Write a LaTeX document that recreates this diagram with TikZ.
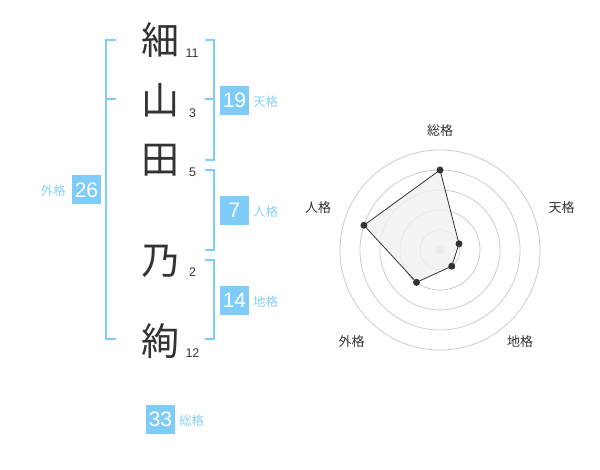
\documentclass[tikz,border=0pt]{standalone}
\usepackage{fontspec}
\setmainfont{Liberation Sans}
\newfontfamily\cjk{Noto Sans CJK JP}
\definecolor{boxblue}{HTML}{80CCF8}
\definecolor{lblblue}{HTML}{8ACFF5}
\definecolor{inkgray}{HTML}{333333}
\definecolor{ringgray}{HTML}{CCCCCC}
\definecolor{polyfill}{HTML}{F0F0F0}
\tikzset{
  kanji/.style={font=\cjk\fontsize{38}{38}\selectfont, text=inkgray, inner sep=0pt},
  strokes/.style={font=\fontsize{12.5}{12.5}\selectfont, text=inkgray, inner sep=0pt},
  valbox/.style={fill=boxblue, text=white, minimum width=29pt, minimum height=29pt, inner sep=0pt, font=\fontsize{21}{21}\selectfont},
  kaku/.style={font=\cjk\fontsize{12.5}{12.5}\selectfont, text=lblblue, inner sep=0pt},
  brk/.style={draw=boxblue, line width=2pt},
  ring/.style={draw=ringgray, line width=0.8pt},
  axlbl/.style={font=\cjk\fontsize{13}{13}\selectfont, text=inkgray, inner sep=0pt},
  dot/.style={circle, fill=inkgray, minimum size=7pt, inner sep=0pt}
}
\begin{document}
\begin{tikzpicture}[x=1pt,y=-1pt]
\useasboundingbox (0,0) rectangle (600,470);
% kanji
\node[kanji] (k1) at (160,40) {細};
\node[kanji] (k2) at (160,100) {山};
\node[kanji] (k3) at (160,160) {田};
\node[kanji] (k4) at (160,261) {乃};
\node[kanji] (k5) at (160,341) {絢};
% stroke numbers
\node[strokes] (s1) at (192,53) {11};
\node[strokes] (s2) at (192.5,113) {3};
\node[strokes] (s3) at (192.5,172.5) {5};
\node[strokes] (s4) at (192.5,272.5) {2};
\node[strokes] (s5) at (192.5,353) {12};
% left bracket (gaikaku)
\draw[brk] (116,40) -- (105.7,40) -- (105.7,339.5) -- (116,339.5);
\draw[brk] (105.7,99.5) -- (116,99.5);
% right brackets
\draw[brk] (205,40) -- (214.3,40) -- (214.3,160) -- (205,160);
\draw[brk] (205,99.5) -- (214.3,99.5);
\draw[brk] (205,170) -- (214.3,170) -- (214.3,250) -- (205,250);
\draw[brk] (205,260) -- (214.3,260) -- (214.3,339.5) -- (205,339.5);
% value boxes
\node[valbox] (vgai) at (86.5,190) {26};
\node[kaku, anchor=east] (lgai) at (66,191) {外格};
\node[valbox] (vten) at (234.5,100.5) {19};
\node[kaku, anchor=west] (lten) at (253,102) {天格};
\node[valbox] (vjin) at (234.5,210.5) {7};
\node[kaku, anchor=west] (ljin) at (253,212) {人格};
\node[valbox] (vchi) at (234.5,300.5) {14};
\node[kaku, anchor=west] (lchi) at (253,302) {地格};
\node[valbox] (vso) at (160.5,419.5) {33};
\node[kaku, anchor=west] (lso) at (179,421) {総格};
% radar
\begin{scope}[shift={(440,250)}]
  \foreach \r in {20,40,60,80,100} \draw[ring] (0,0) circle[radius=\r];
  \fill[ringgray] (0,0) circle[radius=3.5];
  \coordinate (pso) at ({80*cos(90)},{-80*sin(90)});
  \coordinate (pten) at ({20*cos(18)},{-20*sin(18)});
  \coordinate (pchi) at ({20*cos(-54)},{-20*sin(-54)});
  \coordinate (pgai) at ({40*cos(-126)},{-40*sin(-126)});
  \coordinate (pjin) at ({80*cos(162)},{-80*sin(162)});
  \filldraw[fill=polyfill, fill opacity=0.8, draw=inkgray, line width=0.8pt] (pso) -- (pten) -- (pchi) -- (pgai) -- (pjin) -- cycle;
  \foreach \p in {pso,pten,pchi,pgai,pjin} \node[dot] at (\p) {};
  \node[axlbl] (aso) at (0,-119.5) {総格};
  \node[axlbl] (aten) at (121.7,-42) {天格};
  \node[axlbl] (achi) at (80,91.7) {地格};
  \node[axlbl] (agai) at (-88.3,91.7) {外格};
  \node[axlbl] (ajin) at (-122,-42) {人格};
\end{scope}
\end{tikzpicture}
\end{document}
